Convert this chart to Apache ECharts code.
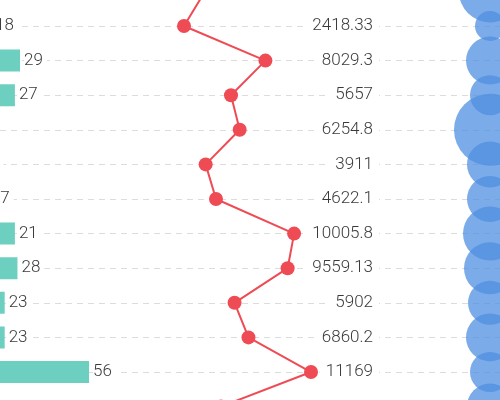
<!DOCTYPE html>
<html>
<head>
<meta charset="utf-8">
<script src="https://cdn.jsdelivr.net/npm/echarts@6/dist/echarts.min.js"></script>
<style>html,body{margin:0;padding:0;background:#fff}#c{width:500px;height:400px}</style>
</head>
<body>
<div id="c"></div>
<script>
// rows (top to bottom); first and last are only partly in view
const categories = ['r0','r1','r2','r3','r4','r5','r6','r7','r8','r9','r10','r11','r12'];
// bar lengths as drawn, and the numbers printed beside them
const barValues = [12, 17.7, 29, 27, 10, 12, 16, 27, 28, 23, 23, 56, 10];
const barLabels = [12, 18, 29, 27, 10, 12, 17, 21, 28, 23, 23, 56, 10];
// line series values (also printed in the value column)
const lineValues = [3866, 2418.33, 8029.3, 5657, 6254.8, 3911, 4622.1, 10005.8, 9559.13, 5902, 6860.2, 11169, 4968];
// bubble magnitudes
const bubbleValues = [31, 15, 24, 20, 36, 23, 23, 27, 26, 22, 24, 20, 23];

const FONT = 'Roboto';
const TXT = '#3a3a3a';
const chart = echarts.init(document.getElementById('c'), null, {renderer: 'canvas'});

const hiddenCatY = (grid) => ({
  type: 'category', gridIndex: grid, data: categories, inverse: true, boundaryGap: false,
  axisLine: {show: false, onZero: false}, axisTick: {show: false}, axisLabel: {show: false},
  splitLine: {show: false}
});

chart.setOption({
  animation: false,
  backgroundColor: '#fff',
  grid: [
    {left: 0, right: 0, top: -8.6, bottom: -6.6, outerBoundsMode: 'none', containLabel: false},
    {left: 470, width: 40, top: -8.6, bottom: -6.6, outerBoundsMode: 'none', containLabel: false}
  ],
  xAxis: [
    {type: 'value', gridIndex: 0, min: 21.17, max: 216.8, show: false},
    {type: 'value', gridIndex: 0, min: -10260, max: 24192, show: false},
    {type: 'category', gridIndex: 1, data: [''], show: false}
  ],
  yAxis: [
    Object.assign(hiddenCatY(0), {
      splitLine: {show: true, interval: 0, lineStyle: {color: '#dcdcdc', width: 1, type: [6, 5]}}
    }),
    Object.assign(hiddenCatY(0), {
      position: 'left', offset: -381, z: 5,
      axisLabel: {
        show: true, margin: 2, align: 'right',
        interval: (i) => i > 0 && i < categories.length - 1,
        fontFamily: FONT, fontWeight: 300, fontSize: 17, color: TXT,
        backgroundColor: '#fff', padding: [0, 6, 0, 6],
        formatter: (v, i) => String(lineValues[i])
      }
    }),
    hiddenCatY(1)
  ],
  series: [
    {
      type: 'bar', xAxisIndex: 0, yAxisIndex: 0, data: barValues, barWidth: 22, clip: false,
      itemStyle: {color: '#6dcfbf'},
      label: {
        show: true, position: 'right', distance: 4,
        fontFamily: FONT, fontWeight: 300, fontSize: 17, color: TXT,
        backgroundColor: '#fff', padding: [0, 4, 0, 0],
        formatter: p => String(barLabels[p.dataIndex])
      }
    },
    {
      type: 'line', xAxisIndex: 1, yAxisIndex: 0, data: lineValues,
      symbol: 'circle', symbolSize: 14, clip: false,
      itemStyle: {color: '#ef4b55'},
      lineStyle: {color: '#ef4b55', width: 2}
    },
    {
      type: 'scatter', xAxisIndex: 2, yAxisIndex: 2,
      data: bubbleValues.map((v, i) => [0, i, v]),
      symbolSize: d => d[2] * 2,
      itemStyle: {color: '#4f8fe0', opacity: 0.75}
    }
  ]
});
</script>
</body>
</html>
